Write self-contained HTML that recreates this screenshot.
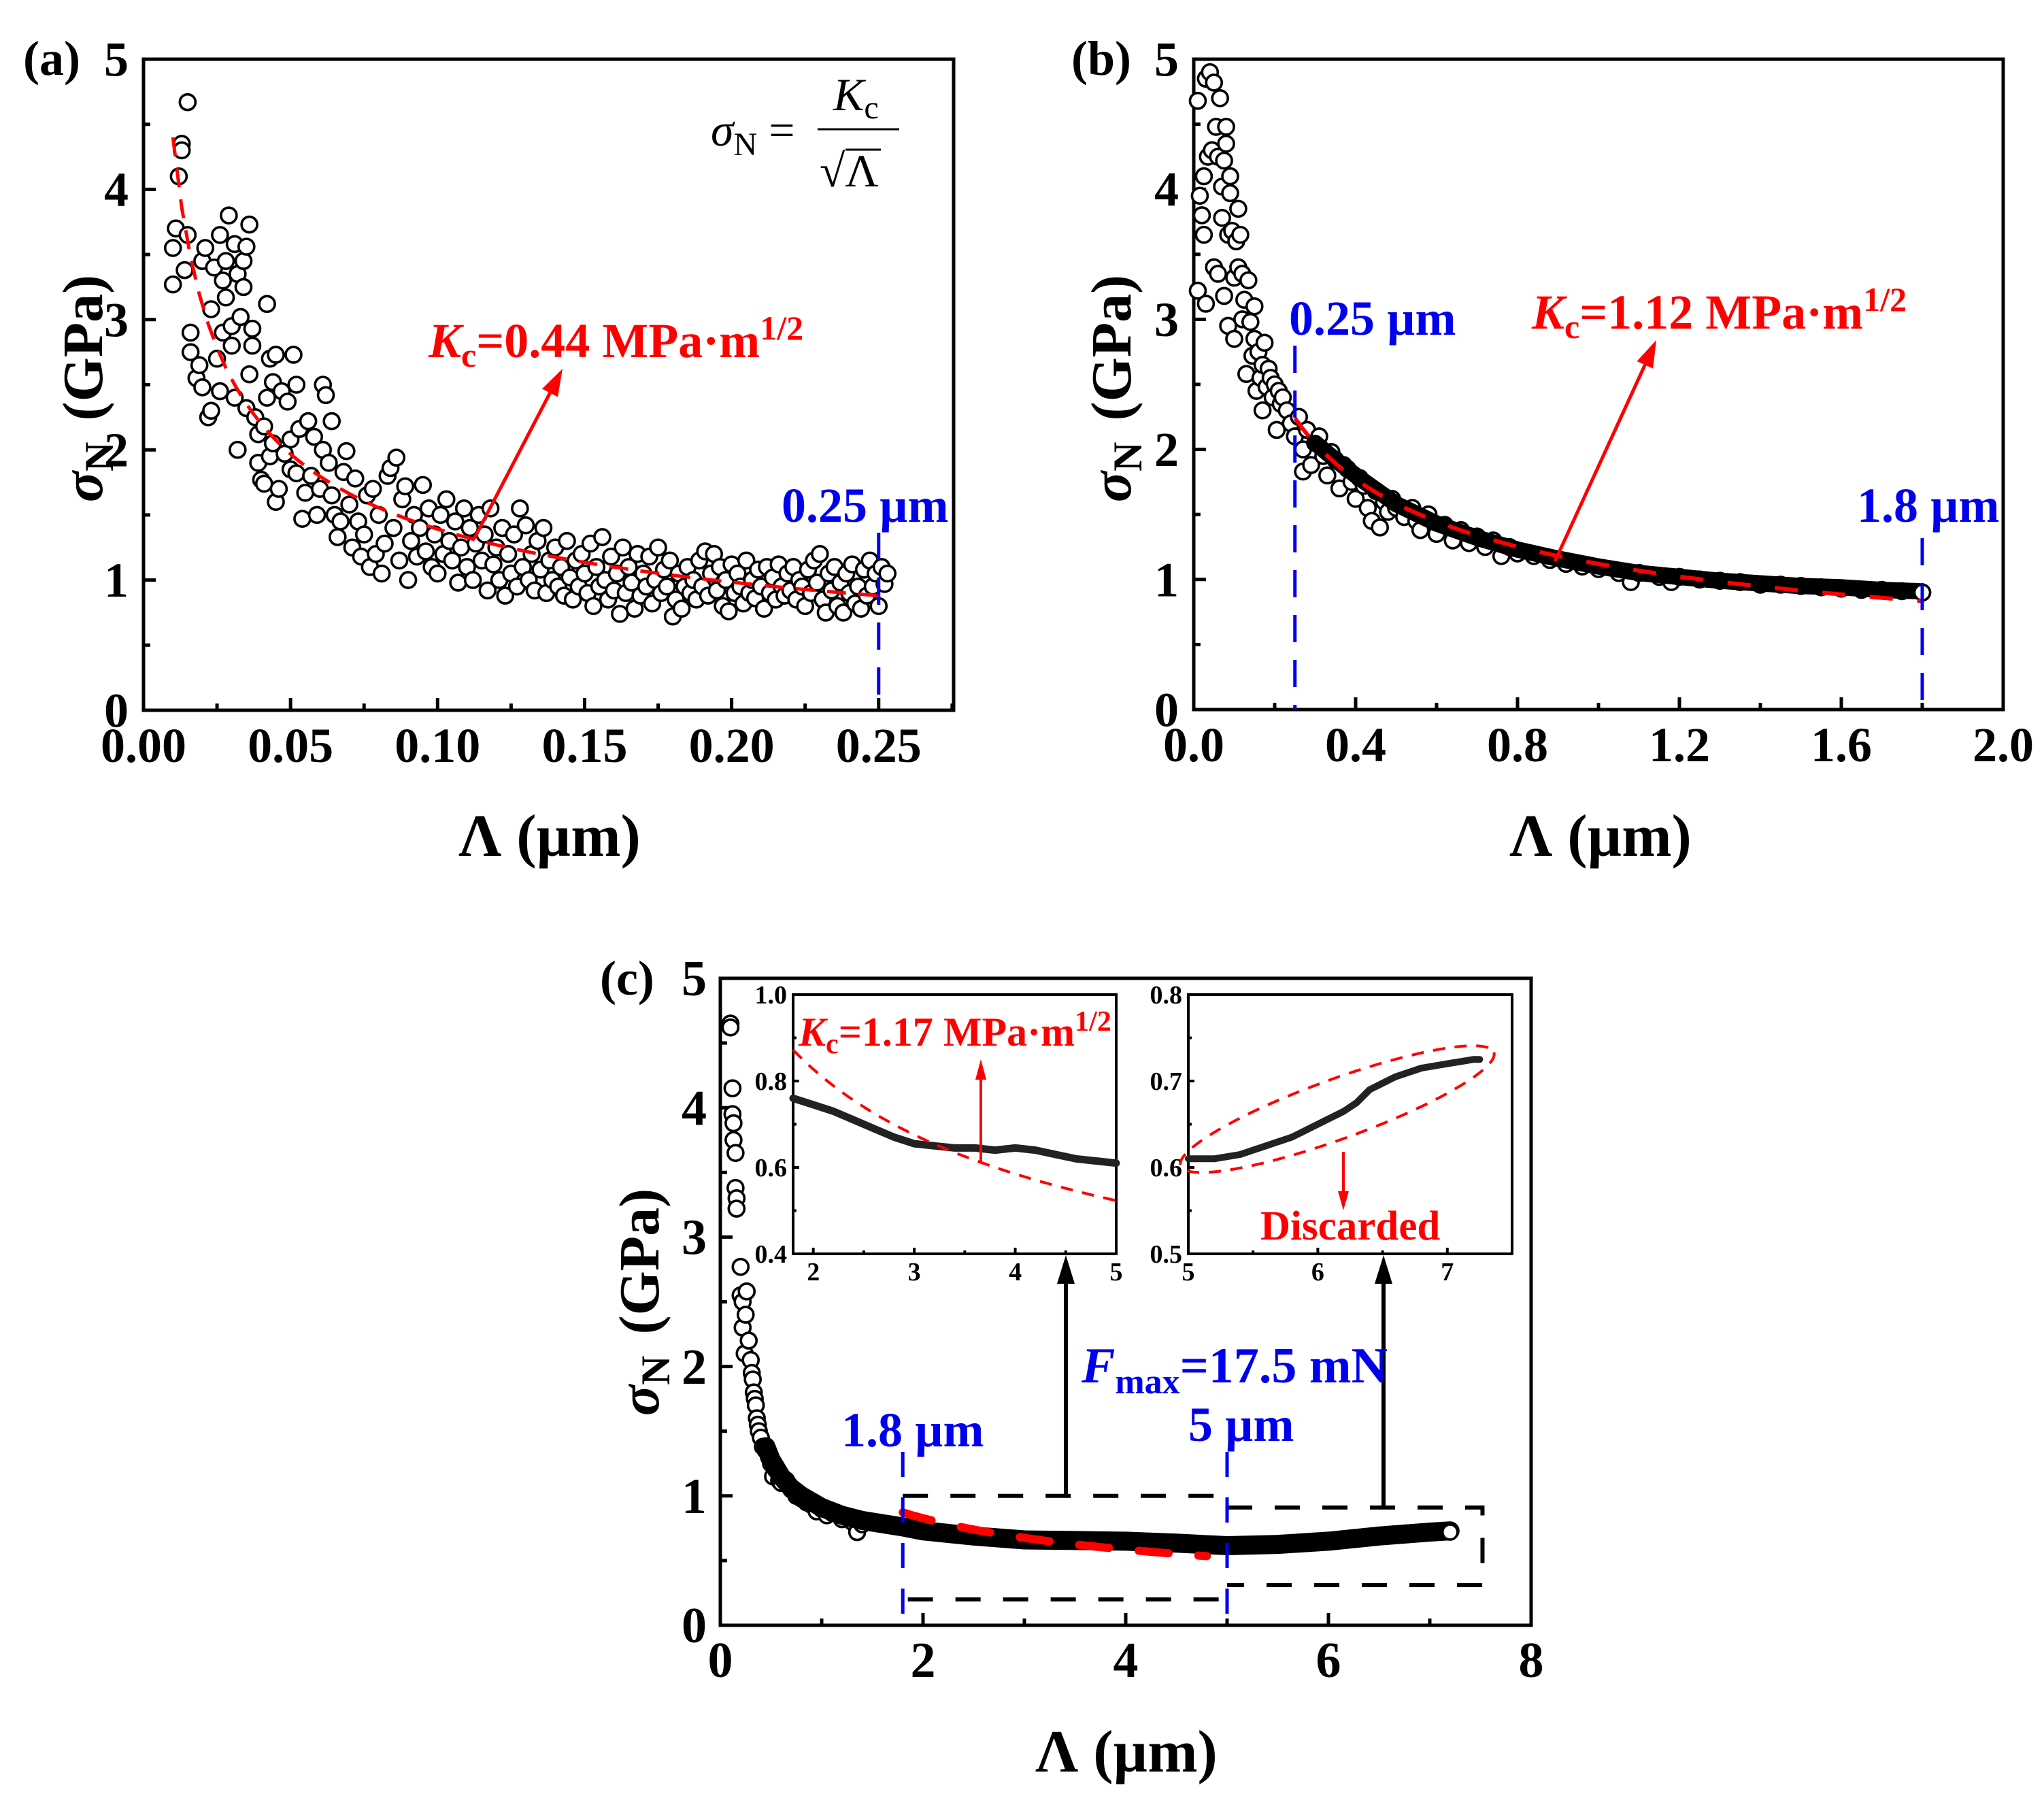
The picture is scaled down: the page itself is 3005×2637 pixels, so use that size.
<!DOCTYPE html>
<html><head><meta charset="utf-8">
<style>
html,body{margin:0;padding:0;background:#fff;}
svg{display:block;font-family:"Liberation Serif",serif;}
</style></head>
<body>
<svg id="fig" width="3005" height="2637" viewBox="0 0 3005 2637" xmlns="http://www.w3.org/2000/svg">
<rect x="0" y="0" width="3005" height="2637" fill="#fff"/>
<g id="gA"></g>
<g id="gB"></g>
<g id="gC"></g>
<g id="gI1"></g>
<g id="gI2"></g>

<g font-weight="bold" fill="#000">
<text x="34" y="110" font-size="72">(a)</text>
<text x="1575" y="110" font-size="72">(b)</text>
<text x="882" y="1462" font-size="72">(c)</text>
<text transform="translate(150,571) rotate(-90)" text-anchor="middle" font-size="84"><tspan font-style="italic">σ</tspan><tspan font-size="60" dy="16">N</tspan><tspan dy="-16" dx="10"> (GPa)</tspan></text>
<text transform="translate(1662,571) rotate(-90)" text-anchor="middle" font-size="84"><tspan font-style="italic">σ</tspan><tspan font-size="60" dy="16">N</tspan><tspan dy="-16" dx="10"> (GPa)</tspan></text>
<text transform="translate(968,1914) rotate(-90)" text-anchor="middle" font-size="84"><tspan font-style="italic">σ</tspan><tspan font-size="60" dy="16">N</tspan><tspan dy="-16" dx="10"> (GPa)</tspan></text>
<text x="808" y="1258" text-anchor="middle" font-size="88">Λ (µm)</text>
<text x="2353" y="1258" text-anchor="middle" font-size="88">Λ (µm)</text>
<text x="1656" y="2604" text-anchor="middle" font-size="88">Λ (µm)</text>
</g>

<g font-size="68" fill="#000">
<text x="1045" y="214"><tspan font-style="italic">σ</tspan><tspan font-size="48" dy="14">N</tspan><tspan dy="-14"> = </tspan></text>
<text x="1225" y="162" font-style="italic">K<tspan font-style="normal" font-size="48" dy="12">c</tspan></text>
<line x1="1202" y1="190" x2="1322" y2="190" stroke="#000" stroke-width="3"/>
<text x="1205" y="274">√Λ</text>
<line x1="1243" y1="220" x2="1295" y2="220" stroke="#000" stroke-width="3"/>
</g>

<g font-weight="bold">
<text x="630" y="525" font-size="72" fill="#ff0000"><tspan font-style="italic">K</tspan><tspan font-size="50" dy="14">c</tspan><tspan dy="-14">=0.44 MPa·m</tspan><tspan font-size="50" dy="-26">1/2</tspan></text>
<text x="1149" y="767" font-size="72" fill="#0000ee">0.25 µm</text>
<text x="1895" y="492" font-size="72" fill="#0000ee">0.25 µm</text>
<text x="2730" y="767" font-size="72" fill="#0000ee">1.8 µm</text>
<text x="2252" y="483" font-size="72" fill="#ff0000"><tspan font-style="italic">K</tspan><tspan font-size="50" dy="14">c</tspan><tspan dy="-14">=1.12 MPa·m</tspan><tspan font-size="50" dy="-26">1/2</tspan></text>
<text x="1237" y="2126" font-size="72" fill="#0000ee">1.8 µm</text>
<text x="1747" y="2118" font-size="72" fill="#0000ee">5 µm</text>
<text x="1590" y="2032" font-size="74" fill="#0000ee"><tspan font-style="italic">F</tspan><tspan font-size="52" dy="16">max</tspan><tspan dy="-16">=17.5 mN</tspan></text>
<text x="1174" y="1537" font-size="60" fill="#ff0000"><tspan font-style="italic">K</tspan><tspan font-size="42" dy="11">c</tspan><tspan dy="-11">=1.17 MPa·m</tspan><tspan font-size="42" dy="-22">1/2</tspan></text>
<text x="1853" y="1822" font-size="61" fill="#ff0000">Discarded</text>
</g>

<script>
const aPoints=[[0.010,3.55],[0.010,3.27],[0.011,3.70],[0.012,4.10],[0.013,4.35],[0.013,4.30],[0.014,3.38],[0.015,3.65],[0.015,4.67],[0.016,2.90],[0.016,2.75],[0.018,2.55],[0.019,2.65],[0.020,2.48],[0.020,3.45],[0.021,3.55],[0.022,2.25],[0.023,2.30],[0.023,3.08],[0.024,3.40],[0.025,2.70],[0.026,2.45],[0.026,3.65],[0.027,3.30],[0.027,2.90],[0.028,3.17],[0.028,3.45],[0.029,3.80],[0.030,2.95],[0.030,2.80],[0.031,2.40],[0.031,3.58],[0.032,2.00],[0.032,3.35],[0.033,3.02],[0.034,3.45],[0.034,3.25],[0.035,2.32],[0.035,3.56],[0.036,2.58],[0.036,3.73],[0.037,2.93],[0.037,2.80],[0.038,2.25],[0.039,1.90],[0.039,2.12],[0.040,1.77],[0.041,2.18],[0.041,1.74],[0.042,2.40],[0.042,3.12],[0.043,2.70],[0.043,1.95],[0.044,2.52],[0.044,2.05],[0.045,1.60],[0.045,2.73],[0.046,1.70],[0.047,2.45],[0.048,1.97],[0.049,2.37],[0.050,2.08],[0.050,1.85],[0.051,2.73],[0.052,1.82],[0.052,2.50],[0.053,2.16],[0.054,1.47],[0.055,1.67],[0.056,2.22],[0.057,1.80],[0.058,2.10],[0.059,1.50],[0.060,1.70],[0.061,2.00],[0.061,2.50],[0.062,2.42],[0.063,1.90],[0.064,1.65],[0.064,2.22],[0.065,1.50],[0.066,1.33],[0.067,1.45],[0.068,1.83],[0.069,1.99],[0.070,1.58],[0.071,1.25],[0.072,1.78],[0.073,1.45],[0.074,1.18],[0.075,1.35],[0.076,1.65],[0.077,1.10],[0.078,1.70],[0.079,1.20],[0.080,1.50],[0.081,1.05],[0.082,1.28],[0.083,1.80],[0.084,1.86],[0.085,1.40],[0.086,1.94],[0.087,1.15],[0.088,1.62],[0.089,1.72],[0.090,1.00],[0.091,1.30],[0.092,1.50],[0.093,1.18],[0.094,1.40],[0.095,1.73],[0.096,1.22],[0.097,1.55],[0.098,1.10],[0.099,1.35],[0.100,1.05],[0.101,1.50],[0.102,1.20],[0.103,1.62],[0.104,1.30],[0.105,1.15],[0.106,1.45],[0.107,0.98],[0.108,1.25],[0.109,1.55],[0.110,1.10],[0.111,1.40],[0.112,1.00],[0.113,1.28],[0.114,1.50],[0.115,1.15],[0.116,1.35],[0.117,0.92],[0.118,1.55],[0.119,1.12],[0.120,1.25],[0.121,1.00],[0.122,1.40],[0.123,0.88],[0.124,1.20],[0.125,1.05],[0.126,1.35],[0.127,0.95],[0.128,1.55],[0.129,1.10],[0.130,1.42],[0.131,1.00],[0.132,1.20],[0.133,0.92],[0.134,1.30],[0.135,1.08],[0.136,1.40],[0.137,0.90],[0.138,1.15],[0.139,1.00],[0.140,1.25],[0.141,0.95],[0.142,1.10],[0.143,0.88],[0.144,1.30],[0.145,1.02],[0.146,0.85],[0.147,1.15],[0.148,0.95],[0.149,1.20],[0.150,1.05],[0.151,0.90],[0.152,1.28],[0.153,0.80],[0.154,1.10],[0.155,0.95],[0.156,1.33],[0.157,1.00],[0.158,0.85],[0.159,1.18],[0.160,0.92],[0.161,1.05],[0.162,0.74],[0.163,1.25],[0.164,0.90],[0.165,1.10],[0.166,0.98],[0.167,0.78],[0.168,1.20],[0.169,0.88],[0.170,1.05],[0.171,0.95],[0.172,1.18],[0.173,0.82],[0.174,1.00],[0.175,1.25],[0.176,0.90],[0.177,1.08],[0.178,0.95],[0.179,1.15],[0.180,0.72],[0.181,0.85],[0.182,1.05],[0.183,0.78],[0.184,0.95],[0.185,1.10],[0.186,0.90],[0.187,1.00],[0.188,0.85],[0.189,1.15],[0.190,0.95],[0.191,1.22],[0.192,0.88],[0.193,1.05],[0.194,1.20],[0.195,0.92],[0.196,1.10],[0.197,0.80],[0.198,1.00],[0.199,0.76],[0.200,1.12],[0.201,0.90],[0.202,1.05],[0.203,0.95],[0.204,0.82],[0.205,1.15],[0.206,0.90],[0.207,1.00],[0.208,0.86],[0.209,1.08],[0.210,0.95],[0.211,0.78],[0.212,1.10],[0.213,0.90],[0.214,1.02],[0.215,0.85],[0.216,1.12],[0.217,0.95],[0.218,0.88],[0.219,1.05],[0.220,0.92],[0.221,1.10],[0.222,0.85],[0.223,1.00],[0.224,0.95],[0.225,0.80],[0.226,1.08],[0.227,0.90],[0.228,1.15],[0.229,0.98],[0.230,1.20],[0.231,0.85],[0.232,0.75],[0.233,1.05],[0.234,0.92],[0.235,1.10],[0.236,0.80],[0.237,0.98],[0.238,0.75],[0.239,1.05],[0.240,0.90],[0.241,1.12],[0.242,0.82],[0.243,0.95],[0.244,0.78],[0.245,1.08],[0.246,0.88],[0.247,1.15],[0.248,0.95],[0.249,1.05],[0.250,0.80],[0.251,1.10],[0.252,0.97],[0.253,1.05]];
const aFitK=0.44;
const aXTicks=[0,0.05,0.10,0.15,0.20,0.25];
const aXTickLabels=['0.00','0.05','0.10','0.15','0.20','0.25'];
const aYTicks=[0,1,2,3,4,5];
const aYTickLabels=['0','1','2','3','4','5'];

const bPoints=[[0.01,4.68],[0.01,3.22],[0.015,3.95],[0.02,3.80],[0.025,4.10],[0.025,3.65],[0.03,4.85],[0.03,3.12],[0.035,4.25],[0.04,4.90],[0.045,4.30],[0.05,3.40],[0.05,4.82],[0.055,4.48],[0.06,4.25],[0.06,3.35],[0.065,4.70],[0.07,3.78],[0.07,4.02],[0.075,3.18],[0.075,4.22],[0.08,4.48],[0.08,4.35],[0.085,3.65],[0.085,2.95],[0.09,4.10],[0.09,3.97],[0.095,3.68],[0.10,2.85],[0.10,3.32],[0.105,3.60],[0.11,3.85],[0.11,3.40],[0.115,3.65],[0.12,3.00],[0.12,3.35],[0.125,3.15],[0.13,2.58],[0.135,3.30],[0.14,2.98],[0.145,2.72],[0.15,3.10],[0.15,2.85],[0.155,2.45],[0.16,2.75],[0.165,2.55],[0.17,2.30],[0.17,2.65],[0.175,2.82],[0.18,2.48],[0.185,2.62],[0.19,2.55],[0.195,2.40],[0.20,2.50],[0.205,2.15],[0.21,2.45],[0.215,2.35],[0.22,2.40],[0.23,2.30],[0.24,2.20],[0.25,2.10],[0.26,2.25],[0.27,1.83],[0.27,2.00],[0.28,2.15],[0.29,1.88],[0.30,2.05],[0.31,2.10],[0.32,1.95],[0.33,1.80],[0.34,1.98],[0.35,1.92],[0.36,1.70],[0.37,1.88],[0.38,1.85],[0.39,1.75],[0.40,1.62],[0.41,1.78],[0.42,1.72],[0.43,1.55],[0.44,1.45],[0.45,1.68],[0.46,1.40],[0.47,1.60],[0.48,1.52],[0.49,1.62],[0.50,1.55],[0.52,1.48],[0.54,1.55],[0.55,1.45],[0.56,1.38],[0.58,1.50],[0.60,1.35],[0.62,1.42],[0.64,1.30],[0.66,1.38],[0.68,1.28],[0.70,1.33],[0.72,1.25],[0.74,1.30],[0.76,1.18],[0.78,1.25],[0.80,1.20],[0.84,1.18],[0.88,1.15],[0.92,1.12],[0.96,1.10],[1.00,1.08],[1.05,1.05],[1.08,0.98],[1.10,1.05],[1.15,1.02],[1.18,0.98],[1.20,1.02],[1.25,1.00],[1.30,0.99],[1.35,0.98],[1.40,0.96],[1.45,0.96],[1.50,0.95],[1.55,0.94],[1.60,0.93],[1.65,0.92],[1.70,0.92],[1.75,0.91],[1.80,0.90]];
const bBandX=[0.30,0.35,0.40,0.50,0.60,0.70,0.80,0.90,1.00,1.10,1.20,1.30,1.40,1.50,1.60,1.70,1.79];
const bBandY=[2.05,1.92,1.80,1.58,1.43,1.32,1.23,1.16,1.10,1.05,1.02,0.99,0.97,0.95,0.94,0.92,0.91];
const bFitK=1.12;
const bXTicks=[0,0.4,0.8,1.2,1.6,2.0];
const bXTickLabels=['0.0','0.4','0.8','1.2','1.6','2.0'];
const bYTicks=[0,1,2,3,4,5];
const bYTickLabels=['0','1','2','3','4','5'];

const cPoints=[[0.10,4.65],[0.10,4.62],[0.12,4.15],[0.12,3.95],[0.13,3.88],[0.13,3.75],[0.15,3.65],[0.15,3.38],[0.16,3.30],[0.16,3.22],[0.20,2.77],[0.20,2.55],[0.22,2.50],[0.22,2.30],[0.24,2.10],[0.25,2.40],[0.26,2.58],[0.28,2.20],[0.30,2.05],[0.31,1.95],[0.32,1.90],[0.33,1.80],[0.34,1.75],[0.35,1.70],[0.36,1.60],[0.37,1.55],[0.38,1.50],[0.40,1.45],[0.42,1.38],[0.45,1.35],[0.48,1.30],[0.50,1.25],[0.52,1.15],[0.55,1.20],[0.58,1.12],[0.60,1.10],[0.65,1.12],[0.70,1.05],[0.75,1.00],[0.80,0.98],[0.85,0.95],[0.90,0.93],[0.95,0.88],[1.00,0.90],[1.05,0.85],[1.10,0.87],[1.20,0.82],[1.30,0.80],[1.35,0.72],[1.40,0.78]];
const cBandX=[0.45,0.5,0.6,0.7,0.8,1.0,1.2,1.4,1.8,2.0,2.5,3.0,3.5,4.0,4.5,5.0,5.5,6.0,6.5,7.0,7.2];
const cBandY=[1.38,1.28,1.15,1.06,1.00,0.91,0.85,0.81,0.76,0.73,0.69,0.66,0.655,0.65,0.635,0.615,0.625,0.65,0.69,0.72,0.73];
const cFitK=1.17;
const cXTicks=[0,2,4,6,8];
const cXTickLabels=['0','2','4','6','8'];
const cYTicks=[0,1,2,3,4,5];
const cYTickLabels=['0','1','2','3','4','5'];

const i1X=[1.8,2.0,2.2,2.4,2.6,2.8,3.0,3.2,3.4,3.6,3.8,4.0,4.2,4.4,4.6,4.8,5.0];
const i1Y=[0.76,0.745,0.73,0.71,0.69,0.67,0.655,0.65,0.645,0.645,0.64,0.645,0.64,0.63,0.62,0.615,0.61];
const i1XTicks=[2,3,4,5];
const i1XTickLabels=['2','3','4','5'];
const i1YTicks=[0.4,0.6,0.8,1.0];
const i1YTickLabels=['0.4','0.6','0.8','1.0'];

const i2X=[5.0,5.2,5.4,5.6,5.8,6.0,6.2,6.3,6.4,6.6,6.8,7.0,7.2,7.25];
const i2Y=[0.61,0.61,0.615,0.625,0.635,0.65,0.665,0.675,0.69,0.705,0.715,0.72,0.725,0.725];
const i2XTicks=[5,6,7];
const i2XTickLabels=['5','6','7'];
const i2YTicks=[0.5,0.6,0.7,0.8];
const i2YTickLabels=['0.5','0.6','0.7','0.8'];

const NS='http://www.w3.org/2000/svg';
function mk(tag,attrs,parent){const e=document.createElementNS(NS,tag);for(const k in attrs)e.setAttribute(k,attrs[k]);parent.appendChild(e);return e;}
function scale(d0,d1,r0,r1){return v=>r0+(v-d0)/(d1-d0)*(r1-r0);}

function drawAxes(g,c){
  const sx=scale(c.xmin,c.xmax,c.L,c.R), sy=scale(c.ymin,c.ymax,c.B,c.T);
  const fr=mk('rect',{x:c.L,y:c.T,width:c.R-c.L,height:c.B-c.T,fill:'none',stroke:'#000','stroke-width':c.lw},g);
  
  
  c.xTicks.forEach((v,i)=>{
    const x=sx(v);
    const t=mk('line',{x1:x,y1:c.B,x2:x,y2:c.B-c.tl,stroke:'#000','stroke-width':c.lw},g);
    
    
    const lb=mk('text',{x:x,y:c.B+c.xlOff,'text-anchor':'middle','font-size':c.fs,'font-weight':'bold'},g);
    lb.textContent=c.xLabels[i];
    
    
  });
  c.xMinor.forEach(v=>{
    const x=sx(v);
    const t=mk('line',{x1:x,y1:c.B,x2:x,y2:c.B-c.tl*0.55,stroke:'#000','stroke-width':c.lw},g);
    
    
  });
  c.yTicks.forEach((v,i)=>{
    const y=sy(v);
    const t=mk('line',{x1:c.L,y1:y,x2:c.L+c.tl,y2:y,stroke:'#000','stroke-width':c.lw},g);
    
    
    const lb=mk('text',{x:c.L-c.ylOff,y:y+c.fs*0.34,'text-anchor':'end','font-size':c.fs,'font-weight':'bold'},g);
    lb.textContent=c.yLabels[i];
    
    
  });
  c.yMinor.forEach(v=>{
    const y=sy(v);
    const t=mk('line',{x1:c.L,y1:y,x2:c.L+c.tl*0.55,y2:y,stroke:'#000','stroke-width':c.lw},g);
    
    
  });
  return {sx,sy};
}
function circles(g,pts,sx,sy,r,sw,name){
  pts.forEach(p=>{
    const e=mk('circle',{cx:sx(p[0]),cy:sy(p[1]),r:r,fill:'#fff',stroke:'#000','stroke-width':sw},g);
    
    
  });
}
function polyline(g,xs,ys,sx,sy,attrs,name){
  const d=xs.map((x,i)=>(i?'L':'M')+sx(x).toFixed(1)+' '+sy(ys[i]).toFixed(1)).join(' ');
  const e=mk('path',Object.assign({d:d,fill:'none'},attrs),g);
  
  
  return e;
}
function fitCurve(g,K,x0,x1,sx,sy,attrs,name){
  const xs=[],ys=[];
  for(let i=0;i<=80;i++){const x=x0+(x1-x0)*i/80;xs.push(x);ys.push(K/Math.sqrt(x));}
  return polyline(g,xs,ys,sx,sy,attrs,name);
}
function arrow(g,x1,y1,x2,y2,color,w,hl,hw,name){
  const a=Math.atan2(y2-y1,x2-x1),ux=Math.cos(a),uy=Math.sin(a);
  const bx=x2-ux*hl,by=y2-uy*hl;
  const ln=mk('line',{x1:x1,y1:y1,x2:bx,y2:by,stroke:color,'stroke-width':w},g);
  
  
  const hd=mk('polygon',{points:`${x2},${y2} ${bx-uy*hw/2},${by+ux*hw/2} ${bx+uy*hw/2},${by-ux*hw/2}`,fill:color},g);
  
  
}
function vdash(g,x,y1,y2,color,w,da,name){
  const e=mk('line',{x1:x,y1:y1,x2:x,y2:y2,stroke:color,'stroke-width':w,'stroke-dasharray':da},g);
  
  
}
function range(a,b,s){const r=[];for(let v=a;v<=b+1e-9;v+=s)r.push(+v.toFixed(4));return r;}

(function(){
  const g=document.getElementById('gA');
  const cfg={L:211,R:1402,T:87,B:1044,xmin:0,xmax:0.2755,ymin:0,ymax:5,lw:5,tl:18,fs:72,xlOff:76,ylOff:22,
    xTicks:aXTicks,xLabels:aXTickLabels,xMinor:range(0.025,0.275,0.05),yTicks:aYTicks,yLabels:aYTickLabels,yMinor:range(0.5,4.5,1)};
  const {sx,sy}=drawAxes(g,cfg);
  circles(g,aPoints,sx,sy,11.5,3.6,'data-point-a');
  fitCurve(g,aFitK,0.01,0.25,sx,sy,{stroke:'#ff0000','stroke-width':5,'stroke-dasharray':'28 18'},'fit-curve-a');
  vdash(g,sx(0.25),783,1044,'#0000ee',5,'40 26','cutoff-line-a');
  arrow(g,697,792,827,542,'#ff0000',5,40,26,'kc-arrow-a');
})();

(function(){
  const g=document.getElementById('gB');
  const cfg={L:1755,R:2945,T:87,B:1043,xmin:0,xmax:2.0,ymin:0,ymax:5,lw:5,tl:18,fs:72,xlOff:76,ylOff:22,
    xTicks:bXTicks,xLabels:bXTickLabels,xMinor:range(0.2,1.8,0.4),yTicks:bYTicks,yLabels:bYTickLabels,yMinor:range(0.5,4.5,1)};
  const {sx,sy}=drawAxes(g,cfg);
  circles(g,bPoints,sx,sy,11.5,3.6,'data-point-b');
  polyline(g,bBandX,bBandY,sx,sy,{stroke:'#000','stroke-width':24,'stroke-linecap':'round','stroke-linejoin':'round'},'dense-data-band-b');
  circles(g,[bPoints[bPoints.length-1]],sx,sy,11.5,3.6,'last-point-b');
  fitCurve(g,bFitK,0.25,1.8,sx,sy,{stroke:'#ff0000','stroke-width':6,'stroke-dasharray':'34 36'},'fit-curve-b');
  vdash(g,sx(0.25),508,1043,'#0000ee',5,'40 26','cutoff-line-b-low');
  vdash(g,sx(1.8),791,1043,'#0000ee',5,'40 26','cutoff-line-b-high');
  arrow(g,2286,825,2435,500,'#ff0000',5,40,26,'kc-arrow-b');
})();

(function(){
  const g=document.getElementById('gC');
  const cfg={L:1059,R:2251,T:1438,B:2389,xmin:0,xmax:8,ymin:0,ymax:5,lw:5,tl:18,fs:74,xlOff:76,ylOff:20,
    xTicks:cXTicks,xLabels:cXTickLabels,xMinor:range(1,7,2),yTicks:cYTicks,yLabels:cYTickLabels,yMinor:range(0.5,4.5,1)};
  const {sx,sy}=drawAxes(g,cfg);
  circles(g,cPoints,sx,sy,11.5,3.6,'data-point-c');
  polyline(g,cBandX,cBandY,sx,sy,{stroke:'#000','stroke-width':28,'stroke-linecap':'round','stroke-linejoin':'round'},'dense-data-band-c');
  circles(g,[[cBandX[cBandX.length-1],cBandY[cBandY.length-1]-0.01]],sx,sy,11,3.5,'last-point-c');
  fitCurve(g,cFitK,1.8,4.8,sx,sy,{stroke:'#ff0000','stroke-width':12,'stroke-dasharray':'44 44','stroke-linecap':'round'},'fit-curve-c');
  const box1=mk('path',{d:`M${sx(1.8)} ${sy(1.0)} H${sx(5.0)} M${sx(1.85)} ${sy(0.2)} H${sx(5.0)}`,fill:'none',stroke:'#000','stroke-width':6,'stroke-dasharray':'37 33'},g);
  
  
  const box2=mk('path',{d:`M${sx(5.0)} ${sy(0.91)} H${sx(7.52)} V${sy(0.31)} H${sx(5.0)}`,fill:'none',stroke:'#000','stroke-width':6,'stroke-dasharray':'37 33'},g);
  
  
  vdash(g,sx(1.8),2134,2389,'#0000ee',5,'37 30','cutoff-line-c-low');
  vdash(g,sx(5.0),2134,2389,'#0000ee',5,'37 30','cutoff-line-c-high');
  arrow(g,1567,sy(1.0),1567,1845,'#000',6,42,26,'zoom-arrow-1');
  arrow(g,2034,sy(0.91),2034,1845,'#000',6,42,26,'zoom-arrow-2');
})();

(function(){
  const g=document.getElementById('gI1');
  mk('rect',{x:1166,y:1462,width:475,height:381,fill:'#fff'},g);
  const cfg={L:1166,R:1641,T:1462,B:1843,xmin:1.8,xmax:5,ymin:0.4,ymax:1.0,lw:4,tl:9,fs:38,xlOff:39,ylOff:9,
    xTicks:i1XTicks,xLabels:i1XTickLabels,xMinor:range(2.5,4.5,1),yTicks:i1YTicks,yLabels:i1YTickLabels,yMinor:range(0.5,0.9,0.2)};
  const {sx,sy}=drawAxes(g,cfg);
  polyline(g,i1X,i1Y,sx,sy,{stroke:'#222','stroke-width':11,'stroke-linecap':'round','stroke-linejoin':'round'},'inset-1-data');
  fitCurve(g,cFitK,1.8,5,sx,sy,{stroke:'#ff0000','stroke-width':4,'stroke-dasharray':'18 14'},'inset-1-fit');
  arrow(g,1442,1710,1442,1557,'#ff0000',4,30,16,'inset-1-kc-arrow');
})();

(function(){
  const g=document.getElementById('gI2');
  mk('rect',{x:1747,y:1462,width:476,height:381,fill:'#fff'},g);
  const cfg={L:1747,R:2223,T:1462,B:1843,xmin:5,xmax:7.5,ymin:0.5,ymax:0.8,lw:4,tl:9,fs:38,xlOff:39,ylOff:9,
    xTicks:i2XTicks,xLabels:i2XTickLabels,xMinor:range(5.5,7.5,1),yTicks:i2YTicks,yLabels:i2YTickLabels,yMinor:range(0.55,0.75,0.1)};
  const {sx,sy}=drawAxes(g,cfg);
  polyline(g,i2X,i2Y,sx,sy,{stroke:'#222','stroke-width':10,'stroke-linecap':'round','stroke-linejoin':'round'},'inset-2-data');
  const cx=(sx(5.0)+sx(7.3))/2, cy=(sy(0.605)+sy(0.73))/2;
  const ang=Math.atan2(sy(0.73)-sy(0.605),sx(7.3)-sx(5.0))*180/Math.PI;
  const len=Math.hypot(sy(0.73)-sy(0.605),sx(7.3)-sx(5.0))/2+12;
  const el=mk('ellipse',{cx:cx,cy:cy,rx:len,ry:44,fill:'none',stroke:'#ff0000','stroke-width':4,'stroke-dasharray':'18 14',transform:`rotate(${ang} ${cx} ${cy})`},g);
  
  
  arrow(g,1975,1693,1975,1779,'#ff0000',4,28,16,'discarded-arrow');
})();
</script>
</svg>
</body></html>
